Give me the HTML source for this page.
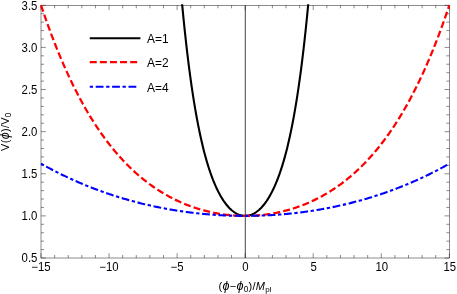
<!DOCTYPE html>
<html><head><meta charset="utf-8"><style>
html,body{margin:0;padding:0;background:#fff;}
svg{display:block;will-change:transform}
</style></head><body>
<svg width="457" height="294" viewBox="0 0 457 294">
<rect width="457" height="294" fill="#fff"/>
<rect x="41.0" y="5.3" width="408.35" height="252.7" fill="none" stroke="#1a1a1a" stroke-width="0.5"/>
<line x1="245.30" y1="5.3" x2="245.30" y2="258.0" stroke="#444" stroke-width="1"/>
<path d="M41.00,258.0v-4.8M41.00,5.3v4.8M54.61,258.0v-3.0M54.61,5.3v3.0M68.22,258.0v-3.0M68.22,5.3v3.0M81.84,258.0v-3.0M81.84,5.3v3.0M95.45,258.0v-3.0M95.45,5.3v3.0M109.06,258.0v-4.8M109.06,5.3v4.8M122.67,258.0v-3.0M122.67,5.3v3.0M136.28,258.0v-3.0M136.28,5.3v3.0M149.89,258.0v-3.0M149.89,5.3v3.0M163.50,258.0v-3.0M163.50,5.3v3.0M177.12,258.0v-4.8M177.12,5.3v4.8M190.73,258.0v-3.0M190.73,5.3v3.0M204.34,258.0v-3.0M204.34,5.3v3.0M217.95,258.0v-3.0M217.95,5.3v3.0M231.56,258.0v-3.0M231.56,5.3v3.0M245.18,258.0v-4.8M245.18,5.3v4.8M258.79,258.0v-3.0M258.79,5.3v3.0M272.40,258.0v-3.0M272.40,5.3v3.0M286.01,258.0v-3.0M286.01,5.3v3.0M299.62,258.0v-3.0M299.62,5.3v3.0M313.23,258.0v-4.8M313.23,5.3v4.8M326.84,258.0v-3.0M326.84,5.3v3.0M340.46,258.0v-3.0M340.46,5.3v3.0M354.07,258.0v-3.0M354.07,5.3v3.0M367.68,258.0v-3.0M367.68,5.3v3.0M381.29,258.0v-4.8M381.29,5.3v4.8M394.90,258.0v-3.0M394.90,5.3v3.0M408.52,258.0v-3.0M408.52,5.3v3.0M422.13,258.0v-3.0M422.13,5.3v3.0M435.74,258.0v-3.0M435.74,5.3v3.0M449.35,258.0v-4.8M449.35,5.3v4.8M41.0,258.00h4.8M449.35,258.00h-4.8M41.0,249.58h3.0M449.35,249.58h-3.0M41.0,241.15h3.0M449.35,241.15h-3.0M41.0,232.73h3.0M449.35,232.73h-3.0M41.0,224.31h3.0M449.35,224.31h-3.0M41.0,215.88h4.8M449.35,215.88h-4.8M41.0,207.46h3.0M449.35,207.46h-3.0M41.0,199.04h3.0M449.35,199.04h-3.0M41.0,190.61h3.0M449.35,190.61h-3.0M41.0,182.19h3.0M449.35,182.19h-3.0M41.0,173.77h4.8M449.35,173.77h-4.8M41.0,165.34h3.0M449.35,165.34h-3.0M41.0,156.92h3.0M449.35,156.92h-3.0M41.0,148.50h3.0M449.35,148.50h-3.0M41.0,140.07h3.0M449.35,140.07h-3.0M41.0,131.65h4.8M449.35,131.65h-4.8M41.0,123.23h3.0M449.35,123.23h-3.0M41.0,114.80h3.0M449.35,114.80h-3.0M41.0,106.38h3.0M449.35,106.38h-3.0M41.0,97.96h3.0M449.35,97.96h-3.0M41.0,89.53h4.8M449.35,89.53h-4.8M41.0,81.11h3.0M449.35,81.11h-3.0M41.0,72.69h3.0M449.35,72.69h-3.0M41.0,64.26h3.0M449.35,64.26h-3.0M41.0,55.84h3.0M449.35,55.84h-3.0M41.0,47.42h4.8M449.35,47.42h-4.8M41.0,38.99h3.0M449.35,38.99h-3.0M41.0,30.57h3.0M449.35,30.57h-3.0M41.0,22.15h3.0M449.35,22.15h-3.0M41.0,13.72h3.0M449.35,13.72h-3.0M41.0,5.30h4.8M449.35,5.30h-4.8" stroke="#1a1a1a" stroke-width="0.5" fill="none"/>
<clipPath id="c"><rect x="40.0" y="4.3" width="410.35" height="254.7"/></clipPath>
<g clip-path="url(#c)" fill="none" stroke-width="2.1">
<path d="M181.55,-2.07 L182.19,4.84 L182.83,11.54 L183.47,18.06 L184.11,24.38 L184.75,30.52 L185.39,36.48 L186.03,42.27 L186.67,47.89 L187.31,53.35 L187.95,58.64 L188.59,63.79 L189.23,68.78 L189.87,73.63 L190.51,78.34 L191.15,82.91 L191.78,87.34 L192.42,91.65 L193.06,95.84 L193.70,99.90 L194.34,103.84 L194.98,107.67 L195.62,111.39 L196.26,114.99 L196.90,118.50 L197.54,121.90 L198.18,125.20 L198.82,128.41 L199.46,131.53 L200.10,134.55 L200.74,137.48 L201.38,140.33 L202.02,143.10 L202.65,145.79 L203.29,148.40 L203.93,150.93 L204.57,153.39 L205.21,155.78 L205.85,158.09 L206.49,160.34 L207.13,162.53 L207.77,164.65 L208.41,166.70 L209.05,168.70 L209.69,170.64 L210.33,172.52 L210.97,174.34 L211.61,176.11 L212.25,177.83 L212.88,179.50 L213.52,181.11 L214.16,182.68 L214.80,184.20 L215.44,185.67 L216.08,187.10 L216.72,188.48 L217.36,189.82 L218.00,191.11 L218.64,192.37 L219.28,193.58 L219.92,194.76 L220.56,195.90 L221.20,196.99 L221.84,198.06 L222.48,199.08 L223.12,200.07 L223.75,201.02 L224.39,201.94 L225.03,202.83 L225.67,203.68 L226.31,204.51 L226.95,205.29 L227.59,206.05 L228.23,206.78 L228.87,207.47 L229.51,208.14 L230.15,208.77 L230.79,209.38 L231.43,209.96 L232.07,210.51 L232.71,211.03 L233.35,211.52 L233.99,211.99 L234.62,212.43 L235.26,212.84 L235.90,213.22 L236.54,213.58 L237.18,213.91 L237.82,214.21 L238.46,214.49 L239.10,214.75 L239.74,214.97 L240.38,215.18 L241.02,215.35 L241.66,215.50 L242.30,215.63 L242.94,215.73 L243.58,215.80 L244.22,215.86 L244.86,215.88 L245.49,215.88 L246.13,215.86 L246.77,215.80 L247.41,215.73 L248.05,215.63 L248.69,215.50 L249.33,215.35 L249.97,215.18 L250.61,214.97 L251.25,214.75 L251.89,214.49 L252.53,214.21 L253.17,213.91 L253.81,213.58 L254.45,213.22 L255.09,212.84 L255.73,212.43 L256.36,211.99 L257.00,211.52 L257.64,211.03 L258.28,210.51 L258.92,209.96 L259.56,209.38 L260.20,208.77 L260.84,208.14 L261.48,207.47 L262.12,206.78 L262.76,206.05 L263.40,205.29 L264.04,204.51 L264.68,203.68 L265.32,202.83 L265.96,201.94 L266.60,201.02 L267.23,200.07 L267.87,199.08 L268.51,198.06 L269.15,196.99 L269.79,195.90 L270.43,194.76 L271.07,193.58 L271.71,192.37 L272.35,191.11 L272.99,189.82 L273.63,188.48 L274.27,187.10 L274.91,185.67 L275.55,184.20 L276.19,182.68 L276.83,181.11 L277.47,179.50 L278.10,177.83 L278.74,176.11 L279.38,174.34 L280.02,172.52 L280.66,170.64 L281.30,168.70 L281.94,166.70 L282.58,164.65 L283.22,162.53 L283.86,160.34 L284.50,158.09 L285.14,155.78 L285.78,153.39 L286.42,150.93 L287.06,148.40 L287.70,145.79 L288.33,143.10 L288.97,140.33 L289.61,137.48 L290.25,134.55 L290.89,131.53 L291.53,128.41 L292.17,125.20 L292.81,121.90 L293.45,118.50 L294.09,114.99 L294.73,111.39 L295.37,107.67 L296.01,103.84 L296.65,99.90 L297.29,95.84 L297.93,91.65 L298.57,87.34 L299.20,82.91 L299.84,78.34 L300.48,73.63 L301.12,68.78 L301.76,63.79 L302.40,58.64 L303.04,53.35 L303.68,47.89 L304.32,42.27 L304.96,36.48 L305.60,30.52 L306.24,24.38 L306.88,18.06 L307.52,11.54 L308.16,4.84 L308.80,-2.07" stroke="#000"/>
<path d="M41.00,5.08 L42.02,8.15 L43.05,11.18 L44.07,14.18 L45.09,17.14 L46.12,20.06 L47.14,22.94 L48.16,25.79 L49.19,28.61 L50.21,31.39 L51.23,34.13 L52.26,36.84 L53.28,39.52 L54.30,42.16 L55.33,44.77 L56.35,47.35 L57.37,49.89 L58.40,52.41 L59.42,54.89 L60.45,57.34 L61.47,59.76 L62.49,62.15 L63.52,64.51 L64.54,66.84 L65.56,69.14 L66.59,71.41 L67.61,73.65 L68.63,75.87 L69.66,78.05 L70.68,80.21 L71.70,82.34 L72.73,84.45 L73.75,86.53 L74.77,88.58 L75.80,90.60 L76.82,92.60 L77.84,94.57 L78.87,96.52 L79.89,98.45 L80.91,100.34 L81.94,102.22 L82.96,104.07 L83.98,105.90 L85.01,107.70 L86.03,109.48 L87.05,111.24 L88.08,112.97 L89.10,114.68 L90.12,116.38 L91.15,118.04 L92.17,119.69 L93.20,121.32 L94.22,122.92 L95.24,124.50 L96.27,126.07 L97.29,127.61 L98.31,129.13 L99.34,130.63 L100.36,132.12 L101.38,133.58 L102.41,135.02 L103.43,136.45 L104.45,137.85 L105.48,139.24 L106.50,140.61 L107.52,141.96 L108.55,143.30 L109.57,144.61 L110.59,145.91 L111.62,147.19 L112.64,148.46 L113.66,149.70 L114.69,150.93 L115.71,152.15 L116.73,153.34 L117.76,154.53 L118.78,155.69 L119.80,156.84 L120.83,157.97 L121.85,159.09 L122.87,160.20 L123.90,161.28 L124.92,162.36 L125.94,163.42 L126.97,164.46 L127.99,165.49 L129.02,166.50 L130.04,167.51 L131.06,168.49 L132.09,169.47 L133.11,170.43 L134.13,171.37 L135.16,172.30 L136.18,173.22 L137.20,174.13 L138.23,175.02 L139.25,175.91 L140.27,176.77 L141.30,177.63 L142.32,178.47 L143.34,179.30 L144.37,180.12 L145.39,180.93 L146.41,181.73 L147.44,182.51 L148.46,183.28 L149.48,184.04 L150.51,184.79 L151.53,185.53 L152.55,186.26 L153.58,186.97 L154.60,187.68 L155.62,188.37 L156.65,189.05 L157.67,189.72 L158.69,190.39 L159.72,191.04 L160.74,191.68 L161.77,192.31 L162.79,192.93 L163.81,193.54 L164.84,194.14 L165.86,194.73 L166.88,195.32 L167.91,195.89 L168.93,196.45 L169.95,197.00 L170.98,197.55 L172.00,198.08 L173.02,198.61 L174.05,199.12 L175.07,199.63 L176.09,200.13 L177.12,200.61 L178.14,201.09 L179.16,201.57 L180.19,202.03 L181.21,202.48 L182.23,202.93 L183.26,203.36 L184.28,203.79 L185.30,204.21 L186.33,204.62 L187.35,205.03 L188.37,205.42 L189.40,205.81 L190.42,206.19 L191.44,206.56 L192.47,206.92 L193.49,207.28 L194.52,207.63 L195.54,207.97 L196.56,208.30 L197.59,208.62 L198.61,208.94 L199.63,209.25 L200.66,209.55 L201.68,209.85 L202.70,210.13 L203.73,210.41 L204.75,210.68 L205.77,210.95 L206.80,211.21 L207.82,211.46 L208.84,211.70 L209.87,211.93 L210.89,212.16 L211.91,212.38 L212.94,212.60 L213.96,212.81 L214.98,213.01 L216.01,213.20 L217.03,213.39 L218.05,213.57 L219.08,213.74 L220.10,213.91 L221.12,214.07 L222.15,214.22 L223.17,214.36 L224.19,214.50 L225.22,214.63 L226.24,214.76 L227.26,214.88 L228.29,214.99 L229.31,215.10 L230.34,215.19 L231.36,215.29 L232.38,215.37 L233.41,215.45 L234.43,215.52 L235.45,215.59 L236.48,215.65 L237.50,215.70 L238.52,215.75 L239.55,215.78 L240.57,215.82 L241.59,215.84 L242.62,215.86 L243.64,215.88 L244.66,215.88 L245.69,215.88 L246.71,215.88 L247.73,215.86 L248.76,215.84 L249.78,215.82 L250.80,215.78 L251.83,215.75 L252.85,215.70 L253.87,215.65 L254.90,215.59 L255.92,215.52 L256.94,215.45 L257.97,215.37 L258.99,215.29 L260.01,215.19 L261.04,215.10 L262.06,214.99 L263.09,214.88 L264.11,214.76 L265.13,214.63 L266.16,214.50 L267.18,214.36 L268.20,214.22 L269.23,214.07 L270.25,213.91 L271.27,213.74 L272.30,213.57 L273.32,213.39 L274.34,213.20 L275.37,213.01 L276.39,212.81 L277.41,212.60 L278.44,212.38 L279.46,212.16 L280.48,211.93 L281.51,211.70 L282.53,211.46 L283.55,211.21 L284.58,210.95 L285.60,210.68 L286.62,210.41 L287.65,210.13 L288.67,209.85 L289.69,209.55 L290.72,209.25 L291.74,208.94 L292.76,208.62 L293.79,208.30 L294.81,207.97 L295.83,207.63 L296.86,207.28 L297.88,206.92 L298.91,206.56 L299.93,206.19 L300.95,205.81 L301.98,205.42 L303.00,205.03 L304.02,204.62 L305.05,204.21 L306.07,203.79 L307.09,203.36 L308.12,202.93 L309.14,202.48 L310.16,202.03 L311.19,201.57 L312.21,201.09 L313.23,200.61 L314.26,200.13 L315.28,199.63 L316.30,199.12 L317.33,198.61 L318.35,198.08 L319.37,197.55 L320.40,197.00 L321.42,196.45 L322.44,195.89 L323.47,195.32 L324.49,194.73 L325.51,194.14 L326.54,193.54 L327.56,192.93 L328.58,192.31 L329.61,191.68 L330.63,191.04 L331.66,190.39 L332.68,189.72 L333.70,189.05 L334.73,188.37 L335.75,187.68 L336.77,186.97 L337.80,186.26 L338.82,185.53 L339.84,184.79 L340.87,184.04 L341.89,183.28 L342.91,182.51 L343.94,181.73 L344.96,180.93 L345.98,180.12 L347.01,179.30 L348.03,178.47 L349.05,177.63 L350.08,176.77 L351.10,175.91 L352.12,175.02 L353.15,174.13 L354.17,173.22 L355.19,172.30 L356.22,171.37 L357.24,170.43 L358.26,169.47 L359.29,168.49 L360.31,167.51 L361.33,166.50 L362.36,165.49 L363.38,164.46 L364.41,163.42 L365.43,162.36 L366.45,161.28 L367.48,160.20 L368.50,159.09 L369.52,157.97 L370.55,156.84 L371.57,155.69 L372.59,154.53 L373.62,153.34 L374.64,152.15 L375.66,150.93 L376.69,149.70 L377.71,148.46 L378.73,147.19 L379.76,145.91 L380.78,144.61 L381.80,143.30 L382.83,141.96 L383.85,140.61 L384.87,139.24 L385.90,137.85 L386.92,136.45 L387.94,135.02 L388.97,133.58 L389.99,132.12 L391.01,130.63 L392.04,129.13 L393.06,127.61 L394.08,126.07 L395.11,124.50 L396.13,122.92 L397.15,121.32 L398.18,119.69 L399.20,118.04 L400.23,116.38 L401.25,114.68 L402.27,112.97 L403.30,111.24 L404.32,109.48 L405.34,107.70 L406.37,105.90 L407.39,104.07 L408.41,102.22 L409.44,100.34 L410.46,98.45 L411.48,96.52 L412.51,94.57 L413.53,92.60 L414.55,90.60 L415.58,88.58 L416.60,86.53 L417.62,84.45 L418.65,82.34 L419.67,80.21 L420.69,78.05 L421.72,75.87 L422.74,73.65 L423.76,71.41 L424.79,69.14 L425.81,66.84 L426.83,64.51 L427.86,62.15 L428.88,59.76 L429.90,57.34 L430.93,54.89 L431.95,52.41 L432.98,49.89 L434.00,47.35 L435.02,44.77 L436.05,42.16 L437.07,39.52 L438.09,36.84 L439.12,34.13 L440.14,31.39 L441.16,28.61 L442.19,25.79 L443.21,22.94 L444.23,20.06 L445.26,17.14 L446.28,14.18 L447.30,11.18 L448.33,8.15 L449.35,5.08" stroke="#ff0000" stroke-width="2.25" stroke-dasharray="6.97 3.13"/>
<path d="M41.00,163.66 L42.02,164.23 L43.05,164.81 L44.07,165.37 L45.09,165.94 L46.12,166.50 L47.14,167.05 L48.16,167.61 L49.19,168.15 L50.21,168.70 L51.23,169.24 L52.26,169.78 L53.28,170.31 L54.30,170.84 L55.33,171.36 L56.35,171.89 L57.37,172.40 L58.40,172.92 L59.42,173.43 L60.45,173.94 L61.47,174.44 L62.49,174.94 L63.52,175.43 L64.54,175.93 L65.56,176.41 L66.59,176.90 L67.61,177.38 L68.63,177.86 L69.66,178.33 L70.68,178.80 L71.70,179.27 L72.73,179.73 L73.75,180.19 L74.77,180.65 L75.80,181.10 L76.82,181.55 L77.84,182.00 L78.87,182.44 L79.89,182.88 L80.91,183.32 L81.94,183.75 L82.96,184.18 L83.98,184.60 L85.01,185.03 L86.03,185.44 L87.05,185.86 L88.08,186.27 L89.10,186.68 L90.12,187.09 L91.15,187.49 L92.17,187.89 L93.20,188.28 L94.22,188.68 L95.24,189.06 L96.27,189.45 L97.29,189.83 L98.31,190.21 L99.34,190.59 L100.36,190.96 L101.38,191.33 L102.41,191.70 L103.43,192.06 L104.45,192.42 L105.48,192.78 L106.50,193.14 L107.52,193.49 L108.55,193.83 L109.57,194.18 L110.59,194.52 L111.62,194.86 L112.64,195.20 L113.66,195.53 L114.69,195.86 L115.71,196.19 L116.73,196.51 L117.76,196.83 L118.78,197.15 L119.80,197.46 L120.83,197.77 L121.85,198.08 L122.87,198.39 L123.90,198.69 L124.92,198.99 L125.94,199.29 L126.97,199.58 L127.99,199.88 L129.02,200.16 L130.04,200.45 L131.06,200.73 L132.09,201.01 L133.11,201.29 L134.13,201.56 L135.16,201.83 L136.18,202.10 L137.20,202.37 L138.23,202.63 L139.25,202.89 L140.27,203.15 L141.30,203.40 L142.32,203.65 L143.34,203.90 L144.37,204.15 L145.39,204.39 L146.41,204.63 L147.44,204.87 L148.46,205.11 L149.48,205.34 L150.51,205.57 L151.53,205.80 L152.55,206.02 L153.58,206.24 L154.60,206.46 L155.62,206.68 L156.65,206.89 L157.67,207.10 L158.69,207.31 L159.72,207.52 L160.74,207.72 L161.77,207.92 L162.79,208.12 L163.81,208.31 L164.84,208.51 L165.86,208.70 L166.88,208.88 L167.91,209.07 L168.93,209.25 L169.95,209.43 L170.98,209.61 L172.00,209.78 L173.02,209.95 L174.05,210.12 L175.07,210.29 L176.09,210.45 L177.12,210.61 L178.14,210.77 L179.16,210.93 L180.19,211.08 L181.21,211.24 L182.23,211.39 L183.26,211.53 L184.28,211.68 L185.30,211.82 L186.33,211.96 L187.35,212.09 L188.37,212.23 L189.40,212.36 L190.42,212.49 L191.44,212.62 L192.47,212.74 L193.49,212.86 L194.52,212.98 L195.54,213.10 L196.56,213.21 L197.59,213.32 L198.61,213.43 L199.63,213.54 L200.66,213.65 L201.68,213.75 L202.70,213.85 L203.73,213.94 L204.75,214.04 L205.77,214.13 L206.80,214.22 L207.82,214.31 L208.84,214.40 L209.87,214.48 L210.89,214.56 L211.91,214.64 L212.94,214.71 L213.96,214.79 L214.98,214.86 L216.01,214.93 L217.03,214.99 L218.05,215.06 L219.08,215.12 L220.10,215.18 L221.12,215.23 L222.15,215.29 L223.17,215.34 L224.19,215.39 L225.22,215.44 L226.24,215.48 L227.26,215.52 L228.29,215.56 L229.31,215.60 L230.34,215.64 L231.36,215.67 L232.38,215.70 L233.41,215.73 L234.43,215.75 L235.45,215.78 L236.48,215.80 L237.50,215.82 L238.52,215.83 L239.55,215.85 L240.57,215.86 L241.59,215.87 L242.62,215.88 L243.64,215.88 L244.66,215.88 L245.69,215.88 L246.71,215.88 L247.73,215.88 L248.76,215.87 L249.78,215.86 L250.80,215.85 L251.83,215.83 L252.85,215.82 L253.87,215.80 L254.90,215.78 L255.92,215.75 L256.94,215.73 L257.97,215.70 L258.99,215.67 L260.01,215.64 L261.04,215.60 L262.06,215.56 L263.09,215.52 L264.11,215.48 L265.13,215.44 L266.16,215.39 L267.18,215.34 L268.20,215.29 L269.23,215.23 L270.25,215.18 L271.27,215.12 L272.30,215.06 L273.32,214.99 L274.34,214.93 L275.37,214.86 L276.39,214.79 L277.41,214.71 L278.44,214.64 L279.46,214.56 L280.48,214.48 L281.51,214.40 L282.53,214.31 L283.55,214.22 L284.58,214.13 L285.60,214.04 L286.62,213.94 L287.65,213.85 L288.67,213.75 L289.69,213.65 L290.72,213.54 L291.74,213.43 L292.76,213.32 L293.79,213.21 L294.81,213.10 L295.83,212.98 L296.86,212.86 L297.88,212.74 L298.91,212.62 L299.93,212.49 L300.95,212.36 L301.98,212.23 L303.00,212.09 L304.02,211.96 L305.05,211.82 L306.07,211.68 L307.09,211.53 L308.12,211.39 L309.14,211.24 L310.16,211.08 L311.19,210.93 L312.21,210.77 L313.23,210.61 L314.26,210.45 L315.28,210.29 L316.30,210.12 L317.33,209.95 L318.35,209.78 L319.37,209.61 L320.40,209.43 L321.42,209.25 L322.44,209.07 L323.47,208.88 L324.49,208.70 L325.51,208.51 L326.54,208.31 L327.56,208.12 L328.58,207.92 L329.61,207.72 L330.63,207.52 L331.66,207.31 L332.68,207.10 L333.70,206.89 L334.73,206.68 L335.75,206.46 L336.77,206.24 L337.80,206.02 L338.82,205.80 L339.84,205.57 L340.87,205.34 L341.89,205.11 L342.91,204.87 L343.94,204.63 L344.96,204.39 L345.98,204.15 L347.01,203.90 L348.03,203.65 L349.05,203.40 L350.08,203.15 L351.10,202.89 L352.12,202.63 L353.15,202.37 L354.17,202.10 L355.19,201.83 L356.22,201.56 L357.24,201.29 L358.26,201.01 L359.29,200.73 L360.31,200.45 L361.33,200.16 L362.36,199.88 L363.38,199.58 L364.41,199.29 L365.43,198.99 L366.45,198.69 L367.48,198.39 L368.50,198.08 L369.52,197.77 L370.55,197.46 L371.57,197.15 L372.59,196.83 L373.62,196.51 L374.64,196.19 L375.66,195.86 L376.69,195.53 L377.71,195.20 L378.73,194.86 L379.76,194.52 L380.78,194.18 L381.80,193.83 L382.83,193.49 L383.85,193.14 L384.87,192.78 L385.90,192.42 L386.92,192.06 L387.94,191.70 L388.97,191.33 L389.99,190.96 L391.01,190.59 L392.04,190.21 L393.06,189.83 L394.08,189.45 L395.11,189.06 L396.13,188.68 L397.15,188.28 L398.18,187.89 L399.20,187.49 L400.23,187.09 L401.25,186.68 L402.27,186.27 L403.30,185.86 L404.32,185.44 L405.34,185.03 L406.37,184.60 L407.39,184.18 L408.41,183.75 L409.44,183.32 L410.46,182.88 L411.48,182.44 L412.51,182.00 L413.53,181.55 L414.55,181.10 L415.58,180.65 L416.60,180.19 L417.62,179.73 L418.65,179.27 L419.67,178.80 L420.69,178.33 L421.72,177.86 L422.74,177.38 L423.76,176.90 L424.79,176.41 L425.81,175.93 L426.83,175.43 L427.86,174.94 L428.88,174.44 L429.90,173.94 L430.93,173.43 L431.95,172.92 L432.98,172.40 L434.00,171.89 L435.02,171.36 L436.05,170.84 L437.07,170.31 L438.09,169.78 L439.12,169.24 L440.14,168.70 L441.16,168.15 L442.19,167.61 L443.21,167.05 L444.23,166.50 L445.26,165.94 L446.28,165.37 L447.30,164.81 L448.33,164.23 L449.35,163.66" stroke="#0000ff" stroke-dasharray="3.3 2.65 7.8 2.65"/>
</g>
<g fill="none" stroke-width="2.1">
<path d="M89.75,38.2H140.4" stroke="#000"/>
<path d="M89.75,62.2H139" stroke="#f00" stroke-width="2.25" stroke-dasharray="6.97 3.13"/>
<path d="M89.75,86.7H137" stroke="#00f" stroke-dasharray="3.3 2.65 7.8 2.65"/>
</g>
<g font-family="Liberation Sans, sans-serif" font-size="12px" fill="#000">
<text x="147.0" y="43.1" font-size="12.6px" textLength="21.6" lengthAdjust="spacingAndGlyphs">A=1</text>
<text x="147.0" y="67.4" font-size="12.6px" textLength="21.6" lengthAdjust="spacingAndGlyphs">A=2</text>
<text x="147.0" y="91.7" font-size="12.6px" textLength="21.6" lengthAdjust="spacingAndGlyphs">A=4</text>
<text transform="translate(37.4,262.25) scale(0.95,1)" text-anchor="end">0.5</text>
<text transform="translate(37.4,220.13) scale(0.95,1)" text-anchor="end">1.0</text>
<text transform="translate(37.4,178.02) scale(0.95,1)" text-anchor="end">1.5</text>
<text transform="translate(37.4,135.90) scale(0.95,1)" text-anchor="end">2.0</text>
<text transform="translate(37.4,93.78) scale(0.95,1)" text-anchor="end">2.5</text>
<text transform="translate(37.4,51.67) scale(0.95,1)" text-anchor="end">3.0</text>
<text transform="translate(37.4,9.55) scale(0.95,1)" text-anchor="end">3.5</text>
<text transform="translate(40.90,270.6) scale(0.95,1)" text-anchor="middle">−15</text>
<text transform="translate(108.96,270.6) scale(0.95,1)" text-anchor="middle">−10</text>
<text transform="translate(177.02,270.6) scale(0.95,1)" text-anchor="middle">−5</text>
<text transform="translate(245.33,270.6) scale(0.95,1)" text-anchor="middle">0</text>
<text transform="translate(313.68,270.6) scale(0.95,1)" text-anchor="middle">5</text>
<text transform="translate(381.74,270.6) scale(0.95,1)" text-anchor="middle">10</text>
<text transform="translate(449.80,270.6) scale(0.95,1)" text-anchor="middle">15</text>
<text x="218.6" y="289.9" font-size="11px" textLength="53" lengthAdjust="spacing">(<tspan font-style="italic" font-size="12.6px">ϕ</tspan>−<tspan font-style="italic" font-size="12.6px">ϕ</tspan><tspan font-size="8.3px" dy="1.8">0</tspan><tspan dy="-1.8">)/</tspan><tspan font-style="italic">M</tspan><tspan font-size="8px" dy="1.8">pl</tspan></text>
<text transform="translate(9.4,150.9) rotate(-90)" font-size="11px" textLength="38.4" lengthAdjust="spacing">V(<tspan font-style="italic" font-size="12.6px">ϕ</tspan>)/V<tspan font-size="8.3px" dy="1.8">0</tspan></text>
</g>
</svg>
</body></html>
